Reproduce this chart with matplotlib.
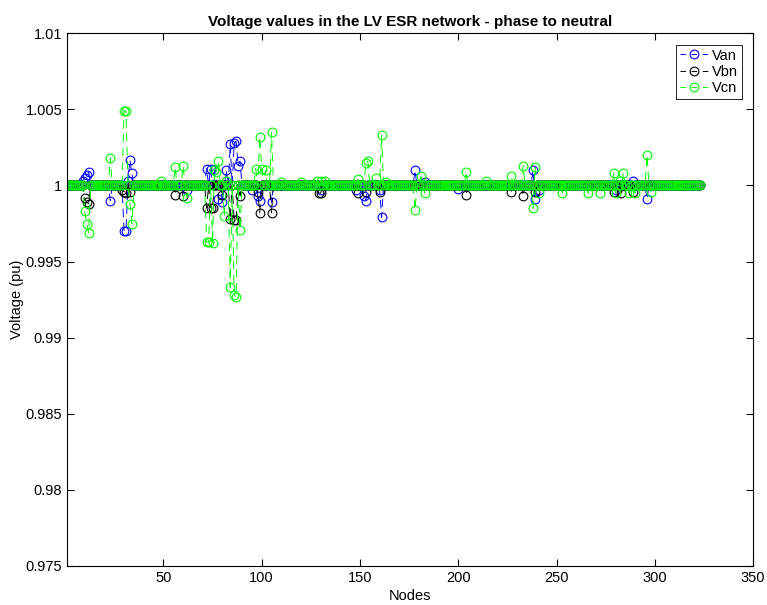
import numpy as np
import matplotlib
matplotlib.use('Agg')
import matplotlib.pyplot as plt
from matplotlib.ticker import FuncFormatter

plt.rcParams['font.family'] = ['Liberation Sans', 'DejaVu Sans']
plt.rcParams['lines.scale_dashes'] = False

# number of nodes in the network, every node sits at 1 pu unless listed below
N_NODES = 323

# Van deviations (node, pu)
van_nodes = [9, 10, 11, 12, 23, 30, 31, 32, 33, 34, 62, 72, 74, 76, 78, 80,
             82, 84, 86, 87, 88, 89, 95, 98, 99, 105, 130, 148, 152, 153,
             160, 161, 178, 183, 200, 238, 239, 241, 280, 289, 296]
van_vals = [1.0003, 1.0005, 1.0007, 1.0009, 0.9990, 0.9970, 0.9970, 1.0003,
            1.0017, 1.0008, 0.9997, 1.0011, 1.0011, 1.0010, 0.9991, 0.9989,
            1.0010, 1.0027, 1.0028, 1.0029, 1.0013, 1.0016, 0.9997, 0.9993,
            0.9990, 0.9989, 0.9997, 0.9997, 0.9993, 0.9990, 0.9997, 0.9979,
            1.0010, 1.0002, 0.9998, 1.0010, 0.9991, 0.9997, 0.9997, 1.0003,
            0.9991]

# Vbn deviations (node, pu)
vbn_nodes = [10, 11, 12, 29, 30, 31, 33, 56, 60, 72, 74, 75, 80, 84, 86, 87,
             89, 98, 99, 105, 129, 130, 149, 153, 160, 204, 227, 233, 239,
             279, 283, 289]
vbn_vals = [0.99915, 0.9989, 0.9988, 0.9997, 0.9996, 0.9995, 0.9996, 0.9994,
            0.9993, 0.99855, 0.9985, 0.99855, 0.9994, 0.9978, 0.9977, 0.9977,
            0.9993, 0.9996, 0.9982, 0.9982, 0.9995, 0.9995, 0.9995, 0.9996,
            0.9996, 0.9994, 0.9996, 0.9993, 0.9996, 0.9996, 0.9995, 0.9996]

# Vcn deviations (node, pu)
vcn_nodes = [10, 11, 12, 23, 30, 31, 33, 34, 49, 56, 60, 62, 72, 73, 75, 76,
             77, 78, 81, 82, 84, 86, 87, 89, 97, 99, 100, 102, 105, 110, 120,
             128, 130, 132, 149, 153, 154, 158, 161, 163, 178, 181, 183, 204,
             214, 227, 233, 238, 239, 241, 253, 266, 272, 279, 280, 282, 284,
             287, 290, 296, 298]
vcn_vals = [0.9983, 0.9975, 0.9969, 1.0018, 1.0049, 1.0049, 0.9988, 0.9975,
            1.0003, 1.0012, 1.0013, 0.9992, 0.9963, 0.9963, 0.9962, 1.0010,
            1.0009, 1.0016, 0.9980, 1.0003, 0.9933, 0.9928, 0.9927, 0.9971,
            1.0011, 1.0032, 1.0011, 1.0010, 1.0035, 1.0002, 1.0002, 1.0003,
            1.0003, 1.0003, 1.0004, 1.0015, 1.0016, 1.0005, 1.0033, 1.0002,
            0.9984, 1.0006, 0.9995, 1.0009, 1.0003, 1.0006, 1.0013, 0.9985,
            1.0012, 0.9995, 0.9995, 0.9995, 0.9995, 1.0008, 0.9995, 1.0003,
            1.0008, 0.9995, 0.9995, 1.0020, 0.9996]


def build(nodes, vals):
    v = np.ones(N_NODES)
    v[np.array(nodes) - 1] = vals
    return v


x = np.arange(1, N_NODES + 1)
series = [('Van', build(van_nodes, van_vals), 'b'),
          ('Vbn', build(vbn_nodes, vbn_vals), 'k'),
          ('Vcn', build(vcn_nodes, vcn_vals), '#00ff00')]

fig = plt.figure(figsize=(7.67, 6.05), dpi=100)
ax = fig.add_axes([0.0874, 0.0645, 0.8946, 0.8805])

for name, y, c in series:
    ax.plot(x, y, 'o', color=c, ls=(0, (6, 4)), lw=0.7, ms=6.3, mfc='none',
            mew=0.8, label=name)

ax.set_xlim(1, 350)
ax.set_ylim(0.975, 1.01)
ax.set_xticks(np.arange(50, 351, 50))
ax.set_yticks(np.arange(0.975, 1.0101, 0.005))
ax.yaxis.set_major_formatter(FuncFormatter(lambda v, p: f'{v:.3f}'.rstrip('0').rstrip('.')))
ax.tick_params(direction='in', top=True, right=True, labelsize=10.5, length=5)
for s in ax.spines.values():
    s.set_linewidth(0.8)

ax.set_title('Voltage values in the LV ESR network - phase to neutral',
             fontsize=11, fontweight='bold', pad=5)
ax.set_xlabel('Nodes', fontsize=10.5, labelpad=3)
ax.set_ylabel('Voltage (pu)', fontsize=10.5, labelpad=1)

leg = ax.legend(loc='upper right', fontsize=10.5, fancybox=False,
                edgecolor='k', framealpha=1, handlelength=2.0,
                handletextpad=0.2, borderpad=0.25, labelspacing=0.15,
                borderaxespad=0.8)
leg.get_frame().set_linewidth(0.6)
for ln in leg.get_lines():
    ln.set_linestyle((0, (4, 4)))

plt.savefig('out.png', dpi=100)
